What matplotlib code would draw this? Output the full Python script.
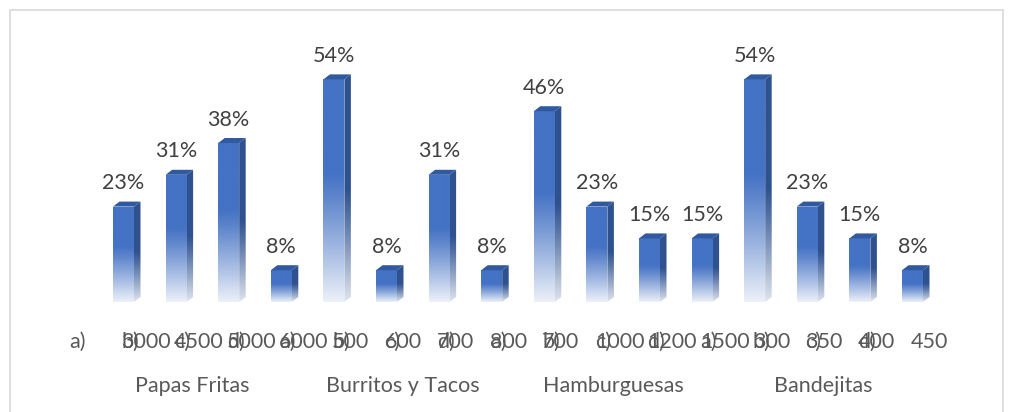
import numpy as np
import matplotlib
matplotlib.use('Agg')
import matplotlib.pyplot as plt
from matplotlib.patches import Polygon, Rectangle
from matplotlib.colors import to_rgb

# ---------------- data ----------------
groups = ['Papas Fritas', 'Burritos y Tacos', 'Hamburguesas', 'Bandejitas']
letters = ['a)', 'b)', 'c)', 'd)']
prices_papas = ['3000', '4500', '5000', '6000']
prices_burritos = ['500', '600', '700', '800']
prices_hamb = ['700', '1000', '1200', '1500']
prices_band = ['300', '350', '400', '450']
pct_papas = [23.08, 30.77, 38.46, 7.69]
pct_burritos = [53.85, 7.69, 30.77, 7.69]
pct_hamb = [46.15, 23.08, 15.38, 15.38]
pct_band = [53.85, 23.08, 15.38, 7.69]

values = pct_papas + pct_burritos + pct_hamb + pct_band
prices = prices_papas + prices_burritos + prices_hamb + prices_band
n = len(values)

# ---------------- style ----------------
plt.rcParams['font.family'] = ['Lato', 'DejaVu Sans']
FRONT = '#4472C4'
SIDE = '#2F528F'
TOP = '#31599F'
FS = 15.5
W, H = 1011, 412
px_per_bar = 52.6
bar_w = 21 / px_per_bar
depth_x = 6.5 / px_per_bar
px_per_pct = 4.134
depth_y = 5 / px_per_pct

fig = plt.figure(figsize=(W / 100, H / 100), dpi=100)
ax_left = 123.5 - 0.5 * px_per_bar
ax_w = n * px_per_bar
ax_h = 60 * px_per_pct
ax = fig.add_axes([ax_left / W, 110 / H, ax_w / W, ax_h / H])
ax.axis('off')

# chart border
fig.patches.append(Rectangle((10 / W, -20 / H), 993 / W, (412 - 9.5 + 20) / H,
                             transform=fig.transFigure, fill=False,
                             edgecolor='#D9D9D9', lw=1.2))


def gradient(color, fade_start=0.42, white_max=0.9, nrow=256):
    c = np.array(to_rgb(color))
    t = np.linspace(0, 1, nrow)
    w = np.clip((t - fade_start) / (1 - fade_start), 0, 1) ** 1.1 * white_max
    rgb = c[None, :] * (1 - w[:, None]) + w[:, None]
    arr = np.ones((nrow, 1, 4))
    arr[:, 0, :3] = rgb
    return arr


x = np.arange(n)
bars = ax.bar(x, values, width=bar_w, color='none', edgecolor='none')

for b, v in zip(bars, values):
    x0 = b.get_x()
    x1 = x0 + b.get_width()
    h = b.get_height()
    # front face with gradient
    im = ax.imshow(gradient(FRONT), extent=[x0, x1, 0, h], aspect='auto',
                   interpolation='bilinear', zorder=2)
    im.set_clip_path(b)
    # side face
    side = Polygon([(x1, 0), (x1 + depth_x, depth_y), (x1 + depth_x, h + depth_y), (x1, h)],
                   closed=True, facecolor='none', edgecolor='none', zorder=1)
    ax.add_patch(side)
    im2 = ax.imshow(gradient(SIDE, fade_start=0.5, white_max=0.85), extent=[x1, x1 + depth_x, 0, h + depth_y],
                    aspect='auto', interpolation='bilinear', zorder=1)
    im2.set_clip_path(side)
    # top cap
    ax.add_patch(Polygon([(x0, h), (x1, h), (x1 + depth_x, h + depth_y), (x0 + depth_x, h + depth_y)],
                         closed=True, facecolor=TOP, edgecolor='none', zorder=3))
    # value label
    ax.annotate(f"{v:.0f}%", xy=(b.get_x() + b.get_width() / 2, h), xytext=(0, 12.5),
                textcoords='offset points', ha='center', va='baseline',
                fontsize=FS, color='#404040')

# tick labels (letter + price, overlapping as in the original)
xt = ax.get_xaxis_transform()
for i in range(n):
    ax.annotate(letters[i % 4], xy=(x[i], 0), xycoords=xt, xytext=(-54.5 * 0.72, -40 * 0.72),
                textcoords='offset points', ha='left', va='center', fontsize=FS, color='#595959')
    ax.annotate(prices[i], xy=(x[i], 0), xycoords=xt, xytext=(-2 * 0.72, -40 * 0.72),
                textcoords='offset points', ha='left', va='center', fontsize=FS, color='#595959')

# group labels
for g, name in enumerate(groups):
    cx = np.mean(x[g * 4:(g + 1) * 4])
    ax.annotate(name, xy=(cx, 0), xycoords=xt, xytext=(-10 * 0.72, -84 * 0.72),
                textcoords='offset points', ha='center', va='center', fontsize=FS, color='#595959')

ax.set_xlim(-0.5, n - 0.5)
ax.set_ylim(0, 60)
fig.savefig('out.png', dpi=100)
